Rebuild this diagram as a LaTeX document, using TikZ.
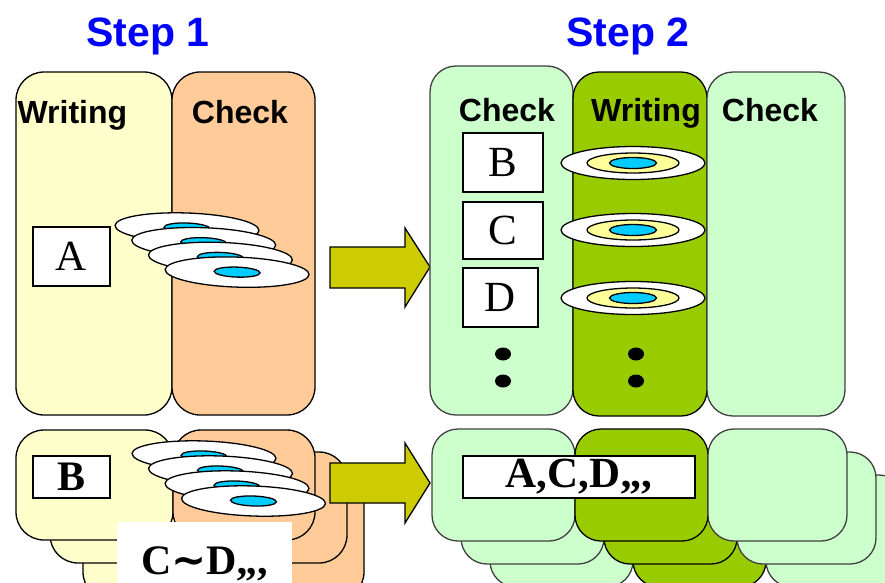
\documentclass[tikz,border=0pt]{standalone}
\usepackage{fontspec}
\setmainfont{Liberation Serif}
\setsansfont{Liberation Sans}
\newfontfamily\symfont{DejaVu Sans}
\usepackage{tikz}
\usetikzlibrary{positioning}

\definecolor{panelyellow}{HTML}{FFFFCC}
\definecolor{panelorange}{HTML}{FFCC99}
\definecolor{panelgreen}{HTML}{CCFFCC}
\definecolor{writegreen}{HTML}{99CC00}
\definecolor{arrowolive}{HTML}{CCCC00}
\definecolor{discblue}{HTML}{00CCFF}
\definecolor{discring}{HTML}{FFFF99}
\definecolor{steptitle}{HTML}{0000FF}

\tikzset{
  panel/.style={draw=black, line width=1.3pt, rounded corners=28pt},
  greenpanel/.style={draw=black!75, line width=1.3pt, rounded corners=26pt, fill=panelgreen},
  writepanel/.style={draw=black, line width=1.3pt, rounded corners=26pt, fill=writegreen},
  title/.style={font=\sffamily\bfseries\fontsize{41}{41}\selectfont, text=steptitle, anchor=base},
  head/.style={font=\sffamily\bfseries\fontsize{32}{32}\selectfont, anchor=base},
  letterbox/.style={draw=black, line width=1.4pt, fill=white, inner sep=0pt, font=\fontsize{43}{43}\selectfont},
  bigarrow/.style={draw=black, line width=1.3pt, fill=arrowolive, line join=miter},
  disc/.style={draw=black, line width=1.3pt, fill=white},
}

\newcommand\flatdisc[2]{%
  \draw[disc, rotate around={-2:(#1,#2)}] (#1,#2) ellipse [x radius=72, y radius=15];
  \draw[disc, fill=discblue, rotate around={-2:(#1,#2)}] (#1,#2) ellipse [x radius=23, y radius=5];}
\newcommand\topdisc[2]{%
  \draw[disc] (#1,#2) ellipse [x radius=72, y radius=16.5];
  \draw[disc, fill=discring] (#1,#2) ellipse [x radius=46, y radius=10];
  \draw[disc, fill=discblue] (#1,#2) ellipse [x radius=23.5, y radius=5.5];}

\begin{document}
\begin{tikzpicture}[x=1pt, y=-1pt]
\useasboundingbox[fill=white] (0,0) rectangle (885,582);

\node[title] (step1) at (148,46) {Step 1};
\node[title] (step2) at (628,46) {Step 2};

\draw[panel, fill=panelyellow] (16,72) rectangle (172,415);
\draw[panel, fill=panelorange] (172,72) rectangle (315,415);
\node[head, anchor=base west] (write1) at (14,123) {Writing};
\node[head] (check1) at (240,123) {Check};
\node[letterbox, minimum width=77pt, minimum height=59pt] (boxA) at (71.5,256.5) {A};
\foreach \i in {0,...,3} {\flatdisc{187+16.7*\i}{228+14.7*\i}}

\draw[bigarrow] (330,247) -- (405,247) -- (405,228) -- (430,267) -- (405,307) -- (405,288) -- (330,288) -- cycle;

\draw[greenpanel] (430,66) rectangle (573,415);
\draw[writepanel] (573,72) rectangle (707,416);
\draw[greenpanel] (707,72) rectangle (845,416);
\node[head] (check2) at (507,121) {Check};
\node[head] (write2) at (646,121) {Writing};
\node[head] (check3) at (770,121) {Check};
\node[letterbox, minimum width=80pt, minimum height=59pt] (boxB) at (503,162.5) {B};
\node[letterbox, minimum width=80pt, minimum height=57pt] (boxC) at (503,230.5) {C};
\node[letterbox, minimum width=75pt, minimum height=59pt] (boxD) at (500.5,297.5) {D};
\foreach \y in {163,230,298} {\topdisc{633}{\y}}
\foreach \x in {503,636} \foreach \y in {354,381} \fill (\x,\y) ellipse [x radius=8, y radius=6.5];

\draw[panel, fill=panelyellow] (83,476) rectangle (225,600);
\draw[panel, fill=panelorange] (225,476) rectangle (364,600);
\draw[panel, fill=panelyellow] (50,452) rectangle (206,563);
\draw[panel, fill=panelorange] (206,452) rectangle (347,563);
\draw[panel, fill=panelyellow] (16,430) rectangle (173,540);
\draw[panel, fill=panelorange] (173,430) rectangle (315,540);
\node[letterbox, font=\bfseries\fontsize{42}{42}\selectfont, minimum width=77pt, minimum height=42pt] (boxB2) at (71.5,477) {B};
\foreach \i in {0,...,3} {\flatdisc{204+16.5*\i}{456+15*\i}}
\node[fill=white, inner sep=0pt, minimum width=175pt, text height=52pt, text depth=10pt, anchor=north west,
  font=\bfseries\fontsize{42}{42}\selectfont] (rest1) at (117,522) {C{\symfont ∼}D,,,};

\draw[bigarrow] (330,463) -- (405,463) -- (405,443) -- (430,483) -- (405,523) -- (405,503) -- (330,503) -- cycle;

\foreach \dx/\dy in {58/46,29/23,0/0} {
  \draw[greenpanel] (432+\dx,429+\dy) rectangle (575+\dx,541+\dy);
  \draw[writepanel] (575+\dx,429+\dy) rectangle (708+\dx,541+\dy);
  \draw[greenpanel] (708+\dx,429+\dy) rectangle (847+\dx,541+\dy);
}
\node[letterbox, font=\bfseries\fontsize{43}{43}\selectfont, minimum width=232pt, minimum height=42pt] (rest2) at (579,477) {A,C,D,,,};
\end{tikzpicture}
\end{document}
